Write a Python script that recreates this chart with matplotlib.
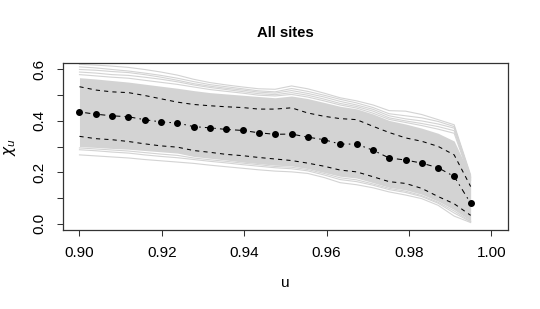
import matplotlib
matplotlib.use("Agg")
import matplotlib.pyplot as plt
import numpy as np

plt.rcParams['font.family'] = ['Liberation Sans', 'DejaVu Sans']

# threshold grid
u = [0.9000, 0.9040, 0.9079, 0.9119, 0.9158, 0.9198, 0.9238, 0.9277, 0.9317,
     0.9356, 0.9396, 0.9435, 0.9475, 0.9515, 0.9554, 0.9594, 0.9633, 0.9673,
     0.9713, 0.9752, 0.9792, 0.9831, 0.9871, 0.9910, 0.9950]

# pooled estimate (dots) and pointwise bands (dashed)
chi_all = [0.435, 0.426, 0.420, 0.416, 0.405, 0.396, 0.392, 0.378, 0.373, 0.367,
           0.363, 0.354, 0.348, 0.349, 0.337, 0.327, 0.310, 0.310, 0.286, 0.256,
           0.248, 0.236, 0.218, 0.184, 0.080]
band_hi = [0.533, 0.520, 0.513, 0.510, 0.499, 0.486, 0.473, 0.464, 0.459, 0.455,
           0.452, 0.446, 0.446, 0.451, 0.431, 0.418, 0.409, 0.405, 0.379, 0.355,
           0.334, 0.321, 0.301, 0.268, 0.145]
band_lo = [0.340, 0.331, 0.327, 0.320, 0.311, 0.303, 0.298, 0.285, 0.278, 0.270,
           0.265, 0.258, 0.252, 0.246, 0.236, 0.224, 0.209, 0.202, 0.183, 0.164,
           0.157, 0.138, 0.106, 0.078, 0.033]

# dense core of the individual site curves
core_hi = [0.568, 0.563, 0.557, 0.551, 0.543, 0.535, 0.527, 0.518, 0.510, 0.505,
           0.500, 0.495, 0.490, 0.497, 0.487, 0.472, 0.457, 0.447, 0.427, 0.402,
           0.388, 0.372, 0.352, 0.322, 0.185]
core_lo = [0.300, 0.297, 0.293, 0.290, 0.285, 0.280, 0.275, 0.262, 0.255, 0.248,
           0.240, 0.234, 0.228, 0.225, 0.215, 0.200, 0.185, 0.178, 0.160, 0.142,
           0.132, 0.115, 0.088, 0.055, 0.012]

# individual site curves outside the core
site_a = [0.620, 0.617, 0.613, 0.608, 0.600, 0.590, 0.578, 0.562, 0.549, 0.540,
          0.532, 0.525, 0.523, 0.536, 0.525, 0.508, 0.490, 0.478, 0.462, 0.440,
          0.438, 0.425, 0.405, 0.385, 0.190]
site_b = [0.610, 0.606, 0.600, 0.594, 0.586, 0.577, 0.566, 0.553, 0.541, 0.533,
          0.525, 0.517, 0.513, 0.526, 0.515, 0.500, 0.484, 0.470, 0.452, 0.428,
          0.420, 0.412, 0.398, 0.378, 0.185]
site_c = [0.600, 0.597, 0.592, 0.588, 0.580, 0.570, 0.558, 0.545, 0.535, 0.527,
          0.520, 0.512, 0.508, 0.518, 0.507, 0.493, 0.476, 0.462, 0.445, 0.420,
          0.408, 0.400, 0.388, 0.372, 0.180]
site_d = [0.590, 0.586, 0.580, 0.577, 0.570, 0.562, 0.552, 0.540, 0.530, 0.522,
          0.514, 0.506, 0.502, 0.510, 0.500, 0.485, 0.468, 0.456, 0.438, 0.412,
          0.400, 0.390, 0.378, 0.362, 0.175]
site_e = [0.580, 0.575, 0.570, 0.566, 0.558, 0.550, 0.542, 0.532, 0.522, 0.515,
          0.508, 0.500, 0.497, 0.503, 0.493, 0.478, 0.462, 0.450, 0.430, 0.406,
          0.394, 0.382, 0.368, 0.352, 0.170]
site_f = [0.268, 0.264, 0.260, 0.256, 0.250, 0.245, 0.240, 0.235, 0.228, 0.222,
          0.216, 0.210, 0.205, 0.202, 0.196, 0.180, 0.160, 0.152, 0.140, 0.124,
          0.112, 0.098, 0.072, 0.030, 0.005]
site_g = [0.288, 0.284, 0.279, 0.275, 0.268, 0.262, 0.257, 0.250, 0.243, 0.237,
          0.230, 0.224, 0.218, 0.214, 0.206, 0.190, 0.172, 0.164, 0.150, 0.133,
          0.122, 0.106, 0.080, 0.042, 0.008]
site_h = [0.295, 0.291, 0.287, 0.283, 0.277, 0.271, 0.266, 0.256, 0.249, 0.243,
          0.236, 0.230, 0.223, 0.220, 0.211, 0.196, 0.179, 0.171, 0.155, 0.138,
          0.127, 0.110, 0.084, 0.050, 0.010]
sites = [site_a, site_b, site_c, site_d, site_e, site_f, site_g, site_h]

x_ticks = [0.90, 0.92, 0.94, 0.96, 0.98, 1.00]
x_ticklabels = ["0.90", "0.92", "0.94", "0.96", "0.98", "1.00"]
y_ticks = [0.0, 0.1, 0.2, 0.3, 0.4, 0.5, 0.6]
y_ticklabels = ["0.0", "", "0.2", "", "0.4", "", "0.6"]

W, H = 540, 309
fig = plt.figure(figsize=(W / 100, H / 100), dpi=100)
ax = fig.add_axes([63 / W, 1 - 230 / H, (507.7 - 63) / W, (230 - 63.3) / H])

grey = '#D3D3D3'
ax.fill_between(u, core_lo, core_hi, color=grey, lw=0, zorder=1)
for s in sites:
    ax.plot(u, s, color=grey, lw=0.8, zorder=2)

ax.plot(u, band_hi, color='black', lw=0.75, ls=(0, (4, 4)), zorder=3)
ax.plot(u, band_lo, color='black', lw=0.75, ls=(0, (4, 4)), zorder=3)
ax.plot(u, chi_all, color='black', lw=0.75, ls=(0, (1.5, 4, 5, 4)), zorder=4)
ax.plot(u, chi_all, ls='none', marker='o', ms=4, color='black', zorder=5)

ax.set_xlim(0.896, 1.004)
ax.set_ylim(-0.024, 0.624)
ax.set_xticks(x_ticks)
ax.set_xticklabels(x_ticklabels)
ax.set_yticks(y_ticks)
ax.set_yticklabels(y_ticklabels, rotation=90, va='center')
ax.tick_params(axis='both', direction='out', length=4.3, width=0.75,
               labelsize=11, color='#333333')
ax.tick_params(axis='x', pad=7.5)
ax.tick_params(axis='y', pad=8)
for sp in ax.spines.values():
    sp.set_linewidth(0.9)
    sp.set_color('#333333')

fig.text(285 / W, 1 - 32.7 / H, "All sites", ha='center', va='center',
         fontsize=10.7, fontweight='bold')
fig.text(285 / W, 1 - 283 / H, "u", ha='center', va='center', fontsize=11)
fig.text(10 / W, 1 - 147 / H, r"$\chi_u$", ha='center', va='center',
         fontsize=11, rotation=90)

fig.savefig("out.png", dpi=100)
